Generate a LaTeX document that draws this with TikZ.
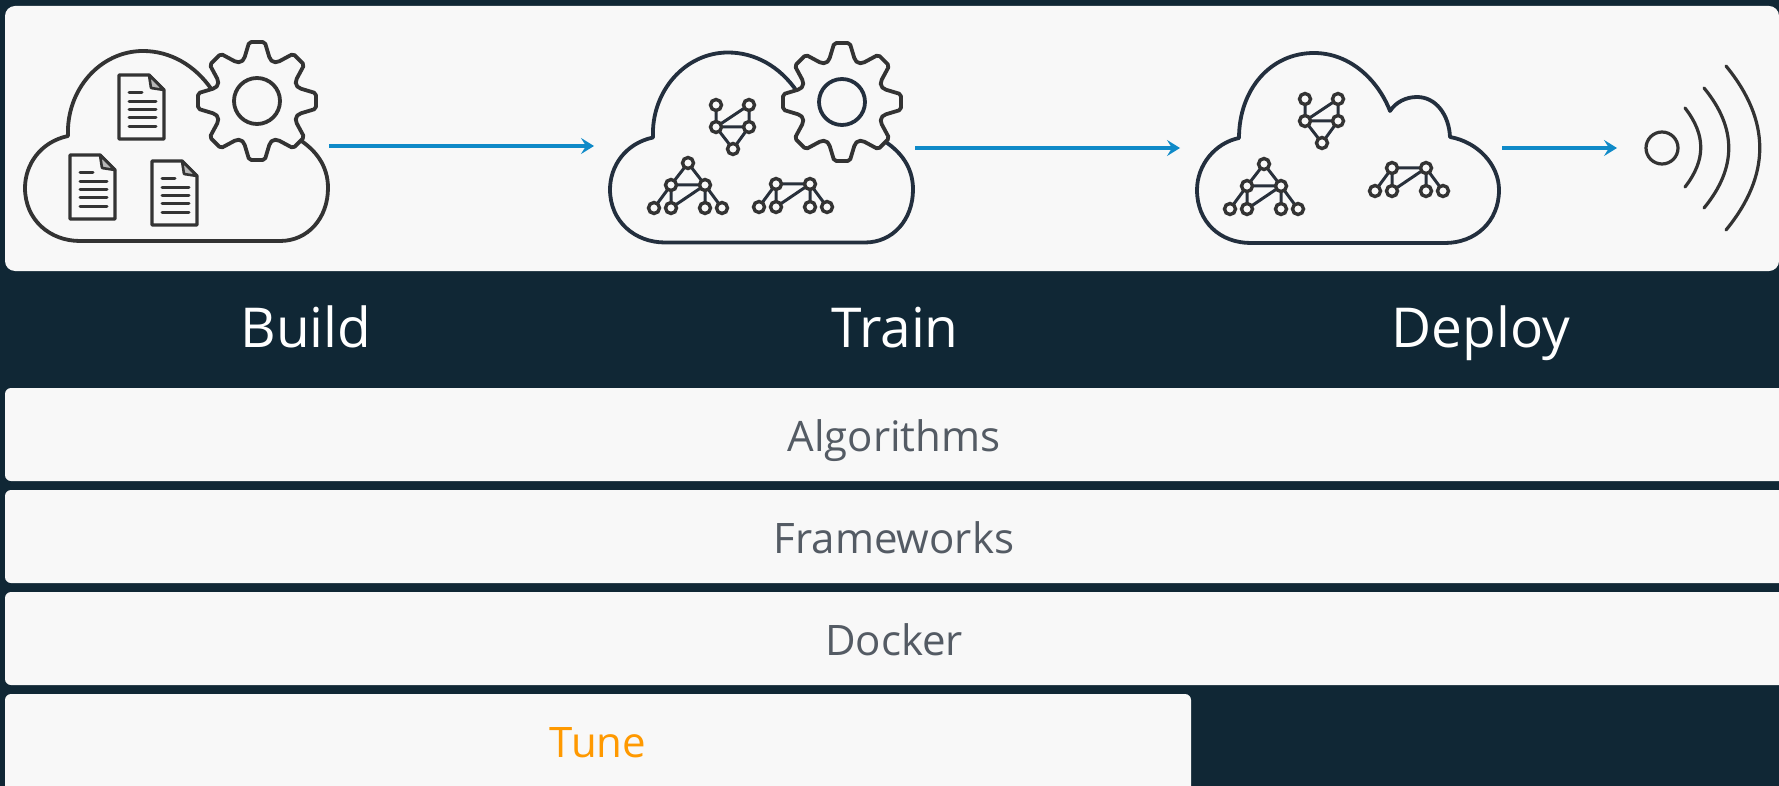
\documentclass[tikz,border=0pt]{standalone}
\usepackage{fontspec}
\setmainfont{Open Sans}
\usetikzlibrary{arrows.meta}
\definecolor{bgc}{HTML}{102735}
\definecolor{panelc}{HTML}{F8F8F8}
\definecolor{inkc}{HTML}{333333}
\definecolor{navyc}{HTML}{232F3E}
\definecolor{bluec}{HTML}{0F8AC8}
\definecolor{greyc}{HTML}{545B64}
\definecolor{orangec}{HTML}{FF9900}
\tikzset{
  x=1pt,y=-1pt,
  panel/.style={fill=panelc,draw=none,rounded corners=6pt},
  headlabel/.style={anchor=base,text=white,inner sep=0pt,font=\fontsize{55}{60}\selectfont},
  barlabel/.style={anchor=base,text=greyc,inner sep=0pt,font=\fontsize{42}{48}\selectfont},
  flow/.style={draw=bluec,line width=3.6pt,-{Stealth[length=13pt,width=16pt,inset=5pt]}},
  wave/.style={draw=inkc,line width=3.2pt,line cap=round},
  outline/.style={line width=3.8pt,line join=round},
  netedge/.style={draw=navyc!70!inkc,line width=3pt},
  netdot/.style={draw=inkc,fill=panelc,line width=3.4pt},
  docline/.style={draw=inkc,line width=3pt,line cap=round},
  pics/gear/.style={code={
    \draw[draw=inkc,fill=panelc,line width=3.8pt,line join=round,rounded corners=2pt]
      (-22.5:42) \foreach \a in {0,45,...,315}{ -- (\a-17:44) -- (\a-7.5:59.5) -- (\a+7.5:59.5) -- (\a+17:44) -- (\a+22.5:42) } -- cycle;
    \draw[draw=#1,line width=3.8pt] (0,0) circle (23);
  }},
  pics/doc/.style={code={
    \draw[draw=inkc,fill=panelc,line width=3.4pt,line join=round]
      (0,0) -- (30,0) -- (45,15) -- (45,64) -- (0,64) -- cycle;
    \draw[draw=inkc,fill=inkc!35,line width=2.6pt,line join=round] (30,0) -- (32,13) -- (45,15) -- cycle;
    \draw[docline] (10,18) -- (23,18);
    \foreach \yy in {27,35,43,52} \draw[docline] (10,\yy) -- (37,\yy);
  }},
  pics/netv/.style={code={
    \draw[netedge] (0,0) -- (0,22) -- (33,22) -- (33,0) -- (0,22) -- (17,44) -- (33,22);
    \foreach \p in {(0,0),(33,0),(0,22),(33,22),(17,44)} \draw[netdot] \p circle (5.5);
  }},
  pics/nett/.style={code={
    \draw[netedge] (-17,23) -- (0,0) -- (34,0) -- (51,23);
    \draw[netedge] (0,0) -- (0,23) -- (34,0) -- (34,23);
    \foreach \p in {(0,0),(34,0),(-17,23),(0,23),(34,23),(51,23)} \draw[netdot] \p circle (5.5);
  }},
  pics/netbig/.style={code={
    \draw[netedge] (0,0) -- (17,-22) -- (34,0);
    \pic {nett};
    \draw[netdot] (17,-22) circle (5.5);
  }},
}
\begin{document}
\begin{tikzpicture}
\useasboundingbox (0,0) rectangle (1779,786);
\fill[bgc] (0,0) rectangle (1779,786);
% panels
\fill[panel,rounded corners=10pt] (5,6) rectangle (1779,271);
\fill[panel] (5,388) rectangle (1800,481);
\fill[panel] (5,490) rectangle (1800,583);
\fill[panel] (5,592) rectangle (1800,685);
\fill[panel] (5,694) rectangle (1191,800);
% labels
\node[headlabel] (build) at (306,347) {Build};
\node[headlabel] (train) at (895,347) {Train};
\node[headlabel] (deploy) at (1481,347) {Deploy};
\node[barlabel] (algorithms) at (894,451) {Algorithms};
\node[barlabel] (frameworks) at (894,553) {Frameworks};
\node[barlabel] (docker) at (894,655) {Docker};
\node[barlabel,text=orangec] (tune) at (598,757) {Tune};
% cloud 1
\draw[outline,draw=inkc]
  (68,136) .. controls (66,90) and (100,51) .. (143,51) .. controls (170,51) and (195,65) .. (212,90)
  -- (300,140) .. controls (315,150) and (328,165) .. (328,188)
  .. controls (328,218) and (308,241) .. (280,241) -- (80,241)
  .. controls (50,241) and (25,220) .. (25,188) .. controls (25,165) and (40,142) .. (68,136) -- cycle;
\pic at (257,101) {gear=inkc};
\pic at (119,75) {doc};
\pic at (70,155) {doc};
\pic at (152,161) {doc};
% cloud 2
\draw[outline,draw=navyc]
  (653,137.5) .. controls (651,91.5) and (685,52.5) .. (728,52.5) .. controls (755,52.5) and (780,66.5) .. (797,91.5)
  -- (885,141.5) .. controls (900,151.5) and (913,166.5) .. (913,189.5)
  .. controls (913,219.5) and (893,242.5) .. (865,242.5) -- (665,242.5)
  .. controls (635,242.5) and (610,221.5) .. (610,189.5) .. controls (610,166.5) and (625,143.5) .. (653,137.5) -- cycle;
\pic at (842,102) {gear=navyc};
\pic at (716,105) {netv};
\pic at (671,185) {netbig};
\pic at (776,184) {nett};
% cloud 3
\draw[outline,draw=navyc]
  (1239,138) .. controls (1239,90) and (1270,53) .. (1314,53) .. controls (1350,53) and (1378,80) .. (1390,111)
  .. controls (1396,102) and (1406,97) .. (1417,97) .. controls (1436,97) and (1449,115) .. (1450,137)
  .. controls (1478,142) and (1499,165) .. (1499,190) .. controls (1499,222) and (1475,243) .. (1445,243)
  -- (1251,243) .. controls (1220,243) and (1197,222) .. (1197,190) .. controls (1197,165) and (1215,143) .. (1239,138) -- cycle;
\pic at (1305,99) {netv};
\pic at (1247,186) {netbig};
\pic at (1392,168) {nett};
% connectors
\coordinate (a1) at (329,146);
\coordinate (a2) at (594,146);
\coordinate (b1) at (915,148);
\coordinate (b2) at (1180,148);
\coordinate (c1) at (1502,148);
\coordinate (c2) at (1617,148);
\draw[flow] (a1) -- (a2);
\draw[flow] (b1) -- (b2);
\draw[flow] (c1) -- (c2);
% signal
\draw[wave] (1662,148) circle (16);
\draw[wave] (1685,108) .. controls (1706,135) and (1706,160) .. (1685,187);
\draw[wave] (1704,88) .. controls (1737,128) and (1737,168) .. (1704,208);
\draw[wave] (1726,66) .. controls (1771,121) and (1771,175) .. (1726,230);
\end{tikzpicture}
\end{document}
